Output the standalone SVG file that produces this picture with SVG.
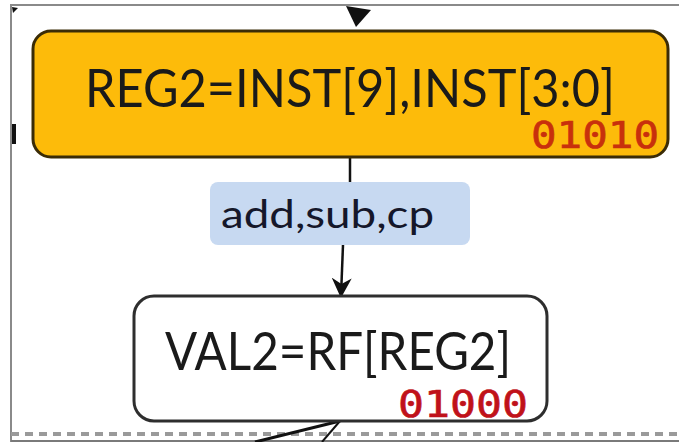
<svg xmlns="http://www.w3.org/2000/svg" width="679" height="442" viewBox="0 0 679 442">
  <style>
    .frame { stroke: #8a8a8a; stroke-width: 2; fill: none; }
    .main { font-family: Lato, "Open Sans", "Liberation Sans", sans-serif; font-size: 52px; fill: #1a1a1a; }
    .code { font-family: "DejaVu Sans Mono", "Liberation Mono", monospace; font-size: 37px; fill: #c0121a; stroke: #c0121a; stroke-width: 0.6; }
    .lbl { font-family: Lato, "Open Sans", "Liberation Sans", sans-serif; font-size: 38px; fill: #15172a; }
    .edge { stroke: #111; stroke-width: 2.5; fill: none; }
  </style>
  <defs>
    <marker id="arrow" viewBox="0 0 10 10" refX="9" refY="5" markerWidth="20" markerHeight="20" orient="auto" markerUnits="userSpaceOnUse">
      <path d="M0,0 L10,5 L0,10 L3,5 Z" fill="#111"/>
    </marker>
  </defs>
  <rect width="679" height="442" fill="#ffffff"/>

  <!-- page frame -->
  <path class="frame" d="M11,442 V5 H679"/>
  <line x1="11" y1="434" x2="679" y2="434" stroke="#9a9a9a" stroke-width="4" stroke-dasharray="8,6"/>
  <line x1="11" y1="441" x2="679" y2="441" stroke="#7a7a7a" stroke-width="2"/>
  <path d="M12,7 L18,8 L13,13 Z" fill="#111"/>
  <rect x="12" y="124" width="4" height="20" fill="#111"/>

  <g id="connectors">
    <path d="M346,6 L371,10 L356,27 Z" fill="#111"/>
    <line class="edge" x1="350" y1="158" x2="350" y2="182"/>
    <line class="edge" x1="343" y1="245" x2="341" y2="296" marker-end="url(#arrow)"/>
    <line x1="255" y1="442" x2="340" y2="421" stroke="#111" stroke-width="3"/>
    <line x1="322" y1="442" x2="340" y2="421" stroke="#111" stroke-width="2"/>
  </g>

  <g id="reg2">
    <rect x="33" y="31" width="635" height="126" rx="18" fill="#fdbb0a" stroke="#3b2c06" stroke-width="3"/>
    <text class="main" x="350" y="107" text-anchor="middle" textLength="530" lengthAdjust="spacingAndGlyphs">REG2=INST[9],INST[3:0]</text>
    <text class="code" x="531" y="148" textLength="128" lengthAdjust="spacingAndGlyphs" style="fill:#c8300c;stroke:#c8300c">01010</text>
  </g>

  <g id="edge-label">
    <rect x="210" y="182" width="260" height="63" rx="8" fill="#c7d9f1"/>
    <text class="lbl" x="221" y="228" textLength="213" lengthAdjust="spacingAndGlyphs">add,sub,cp</text>
  </g>

  <g id="val2">
    <rect x="134" y="296" width="413" height="125" rx="20" fill="#ffffff" stroke="#2e2e2e" stroke-width="3"/>
    <text class="main" x="338" y="370" text-anchor="middle" textLength="346" lengthAdjust="spacingAndGlyphs">VAL2=RF[REG2]</text>
    <text class="code" x="398" y="417" textLength="130" lengthAdjust="spacingAndGlyphs">01000</text>
  </g>
</svg>
